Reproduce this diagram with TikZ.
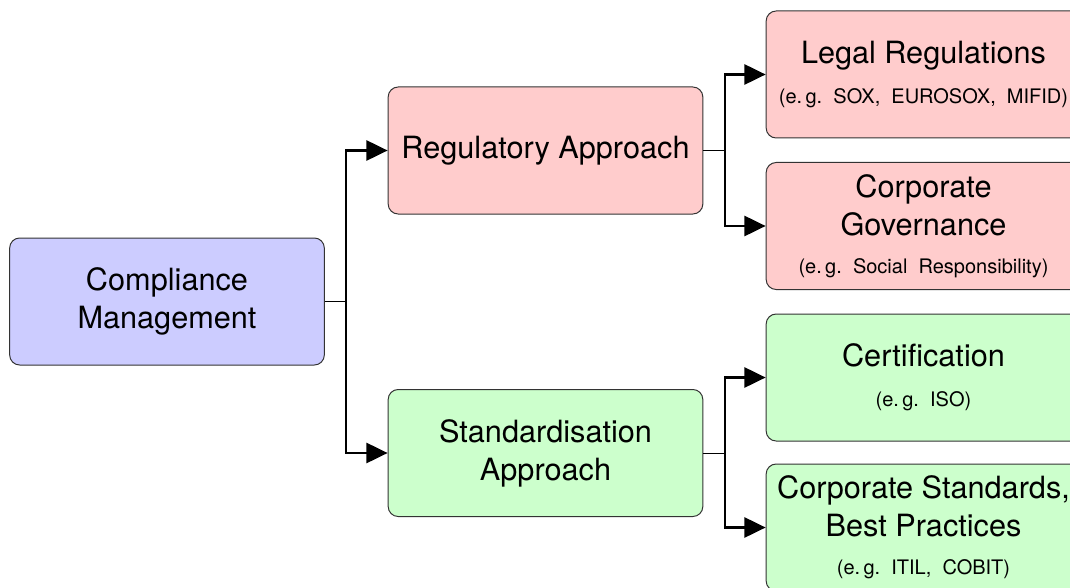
\documentclass[tikz,border=0pt]{standalone}
\usepackage{fontspec}
\setmainfont{TeX Gyre Heros}
\usetikzlibrary{arrows.meta}
\newcommand{\bigtxt}{\fontsize{23}{28.5}\selectfont}
\newcommand{\smalltxt}{\fontsize{15}{18}\selectfont}
\definecolor{boxpink}{HTML}{FFCCCC}
\definecolor{boxgreen}{HTML}{CCFFCC}
\definecolor{boxblue}{HTML}{CCCCFF}
\begin{document}
\begin{tikzpicture}[x=0.75pt,y=-0.75pt,
  box/.style={draw=black!80,line width=0.75pt,rounded corners=7.5pt,
    minimum width=236pt,minimum height=95.25pt,inner sep=0pt,
    align=center,font=\bigtxt},
  feed/.style={line width=0.75pt},
  branch/.style={line width=2.2pt,-{Triangle[length=16pt,width=15pt]}}]
  \useasboundingbox (0,0) rectangle (1070,588);
  \clip (0,0) rectangle (1070,588);

  % root
  \node[box,fill=boxblue] (cm) at (167,301.5) {Compliance\\Management};

  % approaches
  \node[box,fill=boxpink]  (reg) at (545.5,150.5) {Regulatory Approach};
  \node[box,fill=boxgreen] (std) at (545.5,453) {Standardisation\\Approach};

  % concrete sources
  \node[box,fill=boxpink] (legal) at (923.5,74.5)
    {Legal Regulations\\[1.5pt]{\smalltxt (e.\,g.\ \ SOX,\ \ EUROSOX,\ \ MIFID)}};
  \node[box,fill=boxpink] (gov) at (923.5,226)
    {Corporate\\Governance\\[0pt]{\smalltxt (e.\,g.\ \ Social\ \ Responsibility)}};
  \node[box,fill=boxgreen] (cert) at (923.5,377.5)
    {Certification\\[1.5pt]{\smalltxt (e.\,g.\ \ ISO)}};
  \node[box,fill=boxgreen] (cstd) at (923.5,527.5)
    {Corporate Standards,\\Best Practices\\[0pt]{\smalltxt (e.\,g.\ \ ITIL,\ \ COBIT)}};

  % junction points
  \coordinate (j1) at (346,301.5);
  \coordinate (j2) at (725,150.5);
  \coordinate (j3) at (725,453);

  % connectors
  \draw[feed] (cm.east) -- (j1);
  \draw[branch] (j1) |- (reg.west);
  \draw[branch] (j1) |- (std.west);

  \draw[feed] (reg.east) -- (j2);
  \draw[branch] (j2) |- (legal.west);
  \draw[branch] (j2) |- (gov.west);

  \draw[feed] (std.east) -- (j3);
  \draw[branch] (j3) |- (cert.west);
  \draw[branch] (j3) |- (cstd.west);
\end{tikzpicture}
\end{document}
